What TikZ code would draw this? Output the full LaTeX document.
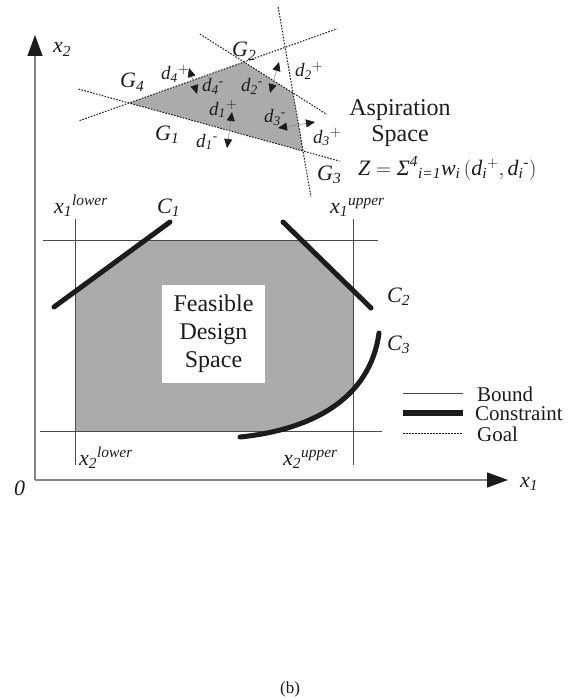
\documentclass[tikz,border=0pt]{standalone}
\usepackage{amsmath}
\usepackage{fontspec}
\setmainfont{Liberation Serif}
\usepackage{tikz}
\usetikzlibrary{arrows.meta,calc}
\definecolor{DSInk}{HTML}{1C1C1C}
\definecolor{DSFill}{HTML}{ABABAB}
\definecolor{DSAxis}{HTML}{858585}
\definecolor{DSBound}{HTML}{4A4A4A}
\definecolor{DSDev}{HTML}{8C8C8C}
\tikzset{
  dsAxis/.style={draw=DSAxis, line width=1.3pt,
    -{Triangle[length=21pt,width=15pt,color=DSInk]}},
  dsBound/.style={draw=DSBound, line width=0.9pt},
  dsConstraint/.style={draw=DSInk, line width=5pt, line cap=round},
  dsGoal/.style={draw=DSInk, line width=1pt, dash pattern=on 1.6pt off 1.4pt},
  dsDev/.style={draw=DSDev, line width=0.6pt,
    {Triangle[length=9pt,width=8pt,color=DSInk]}-{Triangle[length=9pt,width=8pt,color=DSInk]}},
  dsLabel/.style={font=\fontsize{22}{26}\selectfont, text=DSInk, inner sep=0pt, anchor=base west},
  dsSmall/.style={font=\fontsize{19}{22}\selectfont, text=DSInk, inner sep=0pt, anchor=base west},
  dsLegend/.style={font=\fontsize{21}{22}\selectfont, text=DSInk, inner sep=0pt, anchor=base west},
  dsTitle/.style={font=\fontsize{24}{26}\selectfont, text=DSInk, inner sep=0pt, anchor=base},
  dsBox/.style={fill=white, minimum width=103pt, minimum height=98pt, align=center,
    font=\fontsize{24}{28}\selectfont, text=DSInk, inner sep=0pt}
}

\begin{document}
\begin{tikzpicture}[x=1pt,y=-1pt]
  \useasboundingbox (0,0) rectangle (578,698);

  % axes
  \coordinate (origin) at (35,480);
  \coordinate (xEnd) at (508,480);
  \coordinate (yEnd) at (35,35);

  % constraints
  \coordinate (cOneA) at (54,307);
  \coordinate (cOneB) at (170,222);
  \coordinate (cTwoA) at (283,222);
  \coordinate (cTwoB) at (371,308);
  \coordinate (cThreeA) at (240,437);
  \coordinate (cThreeB) at (379,333);

  % goal polygon
  \coordinate (gFour) at (129,103);
  \coordinate (gTwo) at (244,62);
  \coordinate (gThree) at (293,93);
  \coordinate (gOne) at (303,151);

  % feasible region
  \begin{scope}
    \clip (75,240) rectangle (353,431);
    \fill[DSFill] (cThreeA) -- (0,437) -- ($(cOneA)!-0.6!(cOneB)$) -- ($(cOneA)!1.4!(cOneB)$)
      -- ($(cTwoA)!-0.4!(cTwoB)$) -- ($(cTwoA)!1.4!(cTwoB)$) -- (cThreeB)
      .. controls (370,400) and (310,430) .. (cThreeA) -- cycle;
  \end{scope}

  \draw[dsAxis] (origin) -- (xEnd);
  \draw[dsAxis] (origin) -- (yEnd);

  % bounds
  \draw[dsBound] (43,240) -- (378,240);
  \draw[dsBound] (40,431) -- (382,431);
  \draw[dsBound] (75,219) -- (75,465);
  \draw[dsBound] (353,219) -- (353,465);

  \node[dsBox] (feas) at (213.5,334) {Feasible\\Design\\Space};

  \draw[dsConstraint] (cOneA) -- (cOneB);
  \draw[dsConstraint] (cTwoA) -- (cTwoB);
  \draw[dsConstraint] (cThreeA) .. controls (310,430) and (370,400) .. (cThreeB);

  % aspiration space
  \fill[DSFill] (gFour) -- (gTwo) -- (gThree) -- (gOne) -- cycle;
  \draw[dsGoal] ($(gFour)!-0.43!(gTwo)$) -- ($(gFour)!1.81!(gTwo)$);
  \draw[dsGoal] ($(gFour)!-0.29!(gOne)$) -- ($(gFour)!1.21!(gOne)$);
  \draw[dsGoal] ($(gTwo)!-0.9!(gThree)$) -- ($(gTwo)!1.69!(gThree)$);
  \draw[dsGoal] ($(gThree)!-1.48!(gOne)$) -- ($(gThree)!1.79!(gOne)$);

  \coordinate (dFourM) at (197,94);
  \coordinate (dFourP) at (189,68);
  \coordinate (dTwoM) at (270,93);
  \coordinate (dTwoP) at (279,62);
  \coordinate (dOneM) at (227,148);
  \coordinate (dOneP) at (232,112);
  \coordinate (dThreeM) at (278,128);
  \coordinate (dThreeP) at (315,122);
  \draw[dsDev] (dFourM) -- (dFourP);
  \draw[dsDev] (dTwoM) -- (dTwoP);
  \draw[dsDev] (dOneM) -- (dOneP);
  \draw[dsDev] (dThreeM) -- (dThreeP);

  \node[dsLabel] (lblGFour) at (120,88) {$\textit{G}_{\textit{4}}$};
  \node[dsLabel] (lblGTwo) at (232,57) {$\textit{G}_{\textit{2}}$};
  \node[dsLabel] (lblGOne) at (155,140) {$\textit{G}_{\textit{1}}$};
  \node[dsLabel] (lblGThree) at (317,180) {$\textit{G}_{\textit{3}}$};

  \node[dsSmall] (lblDFourP) at (161,80) {$\textit{d}_{\textit{4}}{}^{+}$};
  \node[dsSmall] (lblDFourM) at (202,92) {$\textit{d}_{\textit{4}}{}^{\text{-}}$};
  \node[dsSmall] (lblDTwoM) at (241,92) {$\textit{d}_{\textit{2}}{}^{\text{-}}$};
  \node[dsSmall] (lblDTwoP) at (295,77) {$\textit{d}_{\textit{2}}{}^{+}$};
  \node[dsSmall] (lblDOneP) at (209,115) {$\textit{d}_{\textit{1}}{}^{+}$};
  \node[dsSmall] (lblDThreeM) at (264,123) {$\textit{d}_{\textit{3}}{}^{\text{-}}$};
  \node[dsSmall] (lblDThreeP) at (313,143) {$\textit{d}_{\textit{3}}{}^{+}$};
  \node[dsSmall] (lblDOneM) at (196,147) {$\textit{d}_{\textit{1}}{}^{\text{-}}$};

  \node[dsTitle] (aspOne) at (400,116) {Aspiration};
  \node[dsTitle] (aspTwo) at (400,142) {Space};
  \node[dsLabel] (objective) at (358,175)
    {$\textit{Z} = \textit{Σ}^{\textit{4}}{}_{\textit{i=1}}\textit{w}_{\textit{i}}\,(\textit{d}_{\textit{i}}{}^{+},\textit{d}_{\textit{i}}{}^{\text{-}})$};

  % bound and constraint labels
  \node[dsLabel] (lblXOneLow) at (54,213) {$\textit{x}_{\textit{1}}{}^{\textit{lower}}$};
  \node[dsLabel] (lblXOneUp) at (330,213) {$\textit{x}_{\textit{1}}{}^{\textit{upper}}$};
  \node[dsLabel] (lblXTwoLow) at (79,465) {$\textit{x}_{\textit{2}}{}^{\textit{lower}}$};
  \node[dsLabel] (lblXTwoUp) at (283,465) {$\textit{x}_{\textit{2}}{}^{\textit{upper}}$};
  \node[dsLabel] (lblCOne) at (157,213) {$\textit{C}_{\textit{1}}$};
  \node[dsLabel] (lblCTwo) at (387,302) {$\textit{C}_{\textit{2}}$};
  \node[dsLabel] (lblCThree) at (387,350) {$\textit{C}_{\textit{3}}$};

  \node[dsLabel] (lblYAxis) at (53,53) {$\textit{x}_{\textit{2}}$};
  \node[dsLabel] (lblXAxis) at (520,487) {$\textit{x}_{\textit{1}}$};
  \node[dsLabel] (lblZero) at (14,495) {\textit{0}};

  % legend
  \node[dsLegend] (legBound) at (477,401) {Bound};
  \node[dsLegend] (legConstraint) at (475,420) {Constraint};
  \node[dsLegend] (legGoal) at (477,441) {Goal};
  \draw[dsBound] ([xshift=-74pt]legBound.west) -- ([xshift=-14pt]legBound.west);
  \draw[dsConstraint, line width=6pt, line cap=butt] ([xshift=-72pt]legConstraint.west) -- ([xshift=-12pt]legConstraint.west);
  \draw[dsGoal] ([xshift=-74pt]legGoal.west) -- ([xshift=-14pt]legGoal.west);

  \node[font=\fontsize{17}{18}\selectfont, text=DSInk] (caption) at (290,689) {(b)};
\end{tikzpicture}
\end{document}
